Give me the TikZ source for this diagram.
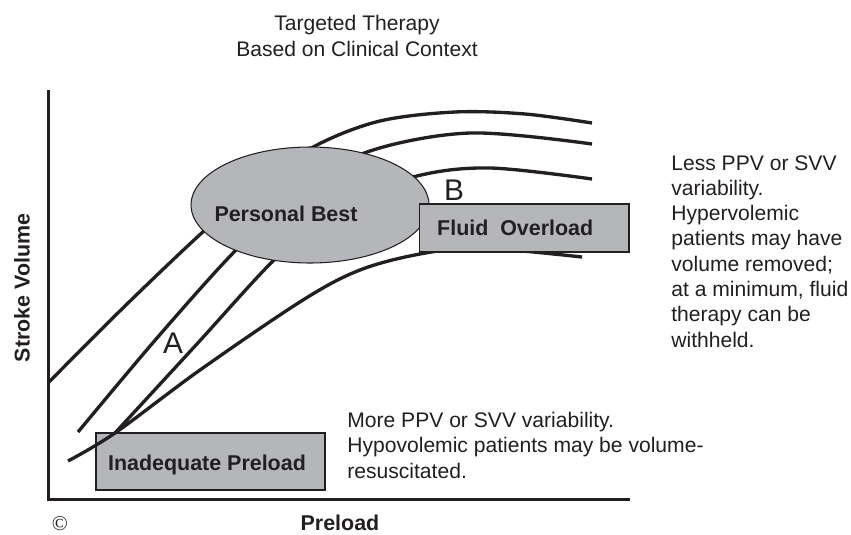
\documentclass[tikz,border=0pt]{standalone}
\usepackage{fontspec}
\setmainfont{Liberation Sans}
\newfontfamily\copyfont{Liberation Serif}
\usepackage{tikz}
\usetikzlibrary{shapes.geometric}
\definecolor{ink}{RGB}{35,31,32}
\definecolor{patchgray}{RGB}{181,182,186}

\begin{document}
\begin{tikzpicture}[
  x=0.02cm, y=-0.02cm,
  font=\fontsize{12}{14.4}\selectfont, text=ink,
  curve/.style={draw=ink, line width=1.9pt},
  axisline/.style={draw=ink, line width=2.1pt},
  patch/.style={draw=ink, line width=0.6pt, fill=patchgray, inner sep=0pt},
  boldlabel/.style={font=\fontsize{12.2}{14}\selectfont\bfseries},
  note/.style={align=left, anchor=north west, inner sep=0pt},
  letter/.style={font=\fontsize{17}{20}\selectfont}
]
\useasboundingbox (0,0) rectangle (851,534);

\coordinate (ytop) at (48.5,90);
\coordinate (origin) at (48.5,499.5);
\coordinate (xend) at (630,499.5);
\draw[axisline] (ytop) -- (origin) -- (xend);

\node[patch, minimum width=4.58cm, minimum height=1.14cm] (inadequate) at (210.5,461.5) {};

\draw[curve] plot[smooth, tension=0.55] coordinates
  {(48,383) (126,305) (205,230) (262,182) (317,145) (380,121) (455,112) (525,114) (592,123)};
\draw[curve] plot[smooth, tension=0.55] coordinates
  {(78,432) (157,338) (236,250) (300,192) (367,152) (470,133) (592,144)};
\draw[curve] plot[smooth, tension=0.55] coordinates
  {(115,433) (196,345) (276,258) (340,205) (417,176) (490,168) (592,179)};
\draw[curve] plot[smooth, tension=0.55] coordinates
  {(68,461) (115,433) (200,370) (303,300) (360,270) (420,254) (480,248) (582,257)};

\node[patch, ellipse, minimum width=4.76cm, minimum height=2.32cm] (best) at (310,205) {};
\node[patch, minimum width=4.2cm, minimum height=0.96cm] (overload) at (524,228) {};

\node[boldlabel] (bestlabel) at (286,214) {Personal Best};
\node[boldlabel, anchor=west] (overloadlabel) at (431,228) {Fluid\ \ Overload};
\node[boldlabel] (inadequatelabel) at (207,465) {Inadequate Preload};

\node[letter] (pointa) at (173,343) {A};
\node[letter] (pointb) at (454,190) {B};

\node[align=center] (title) at (357,36) {Targeted Therapy\\Based on Clinical Context};
\node[note] (lessnote) at (671,155) {Less PPV or SVV\\variability.\\Hypervolemic\\patients may have\\volume removed;\\at a minimum, fluid\\therapy can be\\withheld.};
\node[note] (morenote) at (347,412) {More PPV or SVV variability.\\Hypovolemic patients may be volume-\\resuscitated.};

\node[boldlabel, rotate=90] (ylabel) at (22,288) {Stroke Volume};
\node[boldlabel, inner sep=1pt] (xlabel) at (340,523) {Preload};
\node[font=\copyfont\fontsize{12}{14}\selectfont, inner sep=1pt] (copy) at (60,524) {\textcopyright};
\end{tikzpicture}
\end{document}
